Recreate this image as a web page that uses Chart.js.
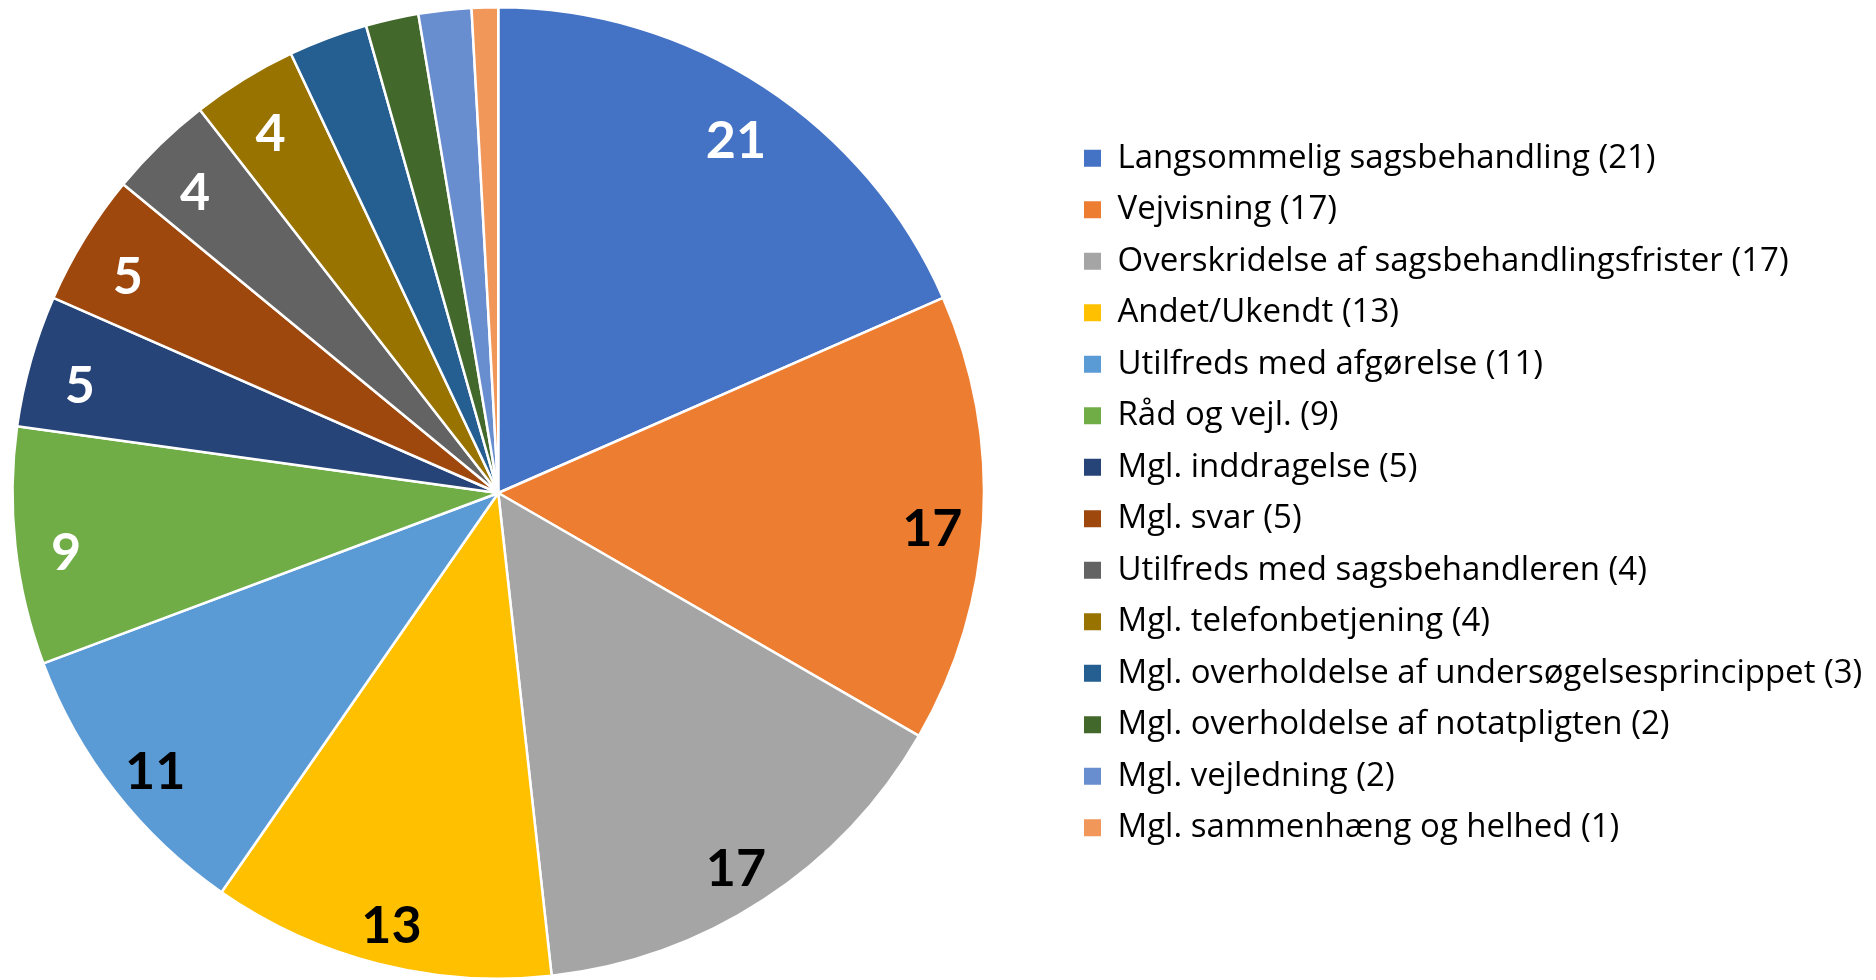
<!DOCTYPE html>
<html>
<head>
<meta charset="utf-8">
<script src="https://cdn.jsdelivr.net/npm/chart.js@4/dist/chart.umd.min.js"></script>
<style>
    html, body { margin: 0; padding: 0; background: #fff; overflow: hidden; }
    /* canvas is shifted left so the pie sits where the reference has it */
    #wrap { width: 1945px; height: 980px; position: absolute; left: -69px; top: 0; }
</style>
</head>
<body>
<div id="wrap"><canvas id="pieChart"></canvas></div>
<script>
const categories = [
    'Langsommelig sagsbehandling',
    'Vejvisning',
    'Overskridelse af sagsbehandlingsfrister',
    'Andet/Ukendt',
    'Utilfreds med afgørelse',
    'Råd og vejl.',
    'Mgl. inddragelse',
    'Mgl. svar',
    'Utilfreds med sagsbehandleren',
    'Mgl. telefonbetjening',
    'Mgl. overholdelse af undersøgelsesprincippet',
    'Mgl. overholdelse af notatpligten',
    'Mgl. vejledning',
    'Mgl. sammenhæng og helhed'
];
const counts = [21, 17, 17, 13, 11, 9, 5, 5, 4, 4, 3, 2, 2, 1];
const sliceColors = [
    '#4472C4', '#ED7D31', '#A5A5A5', '#FFC000', '#5B9BD5', '#70AD47', '#264478',
    '#9E480E', '#636363', '#997300', '#255E91', '#43682B', '#698ED0', '#F1975A'
];
// label colour per slice, null = no label drawn
const labelColors = [
    '#fff', '#000', '#000', '#000', '#000', '#fff', '#fff',
    '#fff', '#fff', '#fff', null, null, null, null
];

const sliceLabels = {
    id: 'sliceLabels',
    afterDatasetsDraw(chart) {
        const ctx = chart.ctx;
        const meta = chart.getDatasetMeta(0);
        ctx.save();
        ctx.font = 'bold 52px Lato';
        ctx.textAlign = 'center';
        ctx.textBaseline = 'middle';
        meta.data.forEach((arc, i) => {
            if (!labelColors[i]) return;
            const p = arc.getProps(['x', 'y', 'startAngle', 'endAngle', 'outerRadius'], true);
            const mid = (p.startAngle + p.endAngle) / 2;
            const r = p.outerRadius * 0.895;
            ctx.fillStyle = labelColors[i];
            ctx.fillText(String(counts[i]), p.x + Math.cos(mid) * r, p.y + Math.sin(mid) * r + 12);
        });
        ctx.restore();
    }
};

document.addEventListener('DOMContentLoaded', function() {
    const pieCtx = document.getElementById('pieChart');
    const chart = new Chart(pieCtx.getContext('2d'), {
        type: 'pie',
        data: {
            labels: categories,
            datasets: [{
                data: counts,
                backgroundColor: sliceColors,
                borderColor: '#fff',
                borderWidth: 2.5
            }]
        },
        options: {
            responsive: true,
            maintainAspectRatio: false,
            animation: false,
            layout: {
                padding: { left: 0, right: 0, top: 6, bottom: 0 }
            },
            plugins: {
                tooltip: { enabled: false },
                legend: {
                    position: 'right',
                    labels: {
                        color: '#000',
                        font: { family: 'Open Sans', size: 33 },
                        boxWidth: 17,
                        boxHeight: 17,
                        padding: 18.5,
                        generateLabels(chart) {
                            const items = Chart.overrides.pie.plugins.legend.labels.generateLabels(chart);
                            return items.map((item, i) => {
                                item.text = categories[i] + ' (' + counts[i] + ')';
                                item.lineWidth = 0;
                                item.strokeStyle = item.fillStyle;
                                return item;
                            });
                        }
                    }
                }
            }
        },
        plugins: [sliceLabels]
    });

    // legend boxes should start at x=1153 in canvas coords; pad the right side to get there
    const legendLeft = 1153 - chart.options.plugins.legend.labels.padding;
    chart.options.layout.padding.right = Math.max(0, chart.width - legendLeft - chart.legend.width);
    chart.update();
});
</script>
</body>
</html>
